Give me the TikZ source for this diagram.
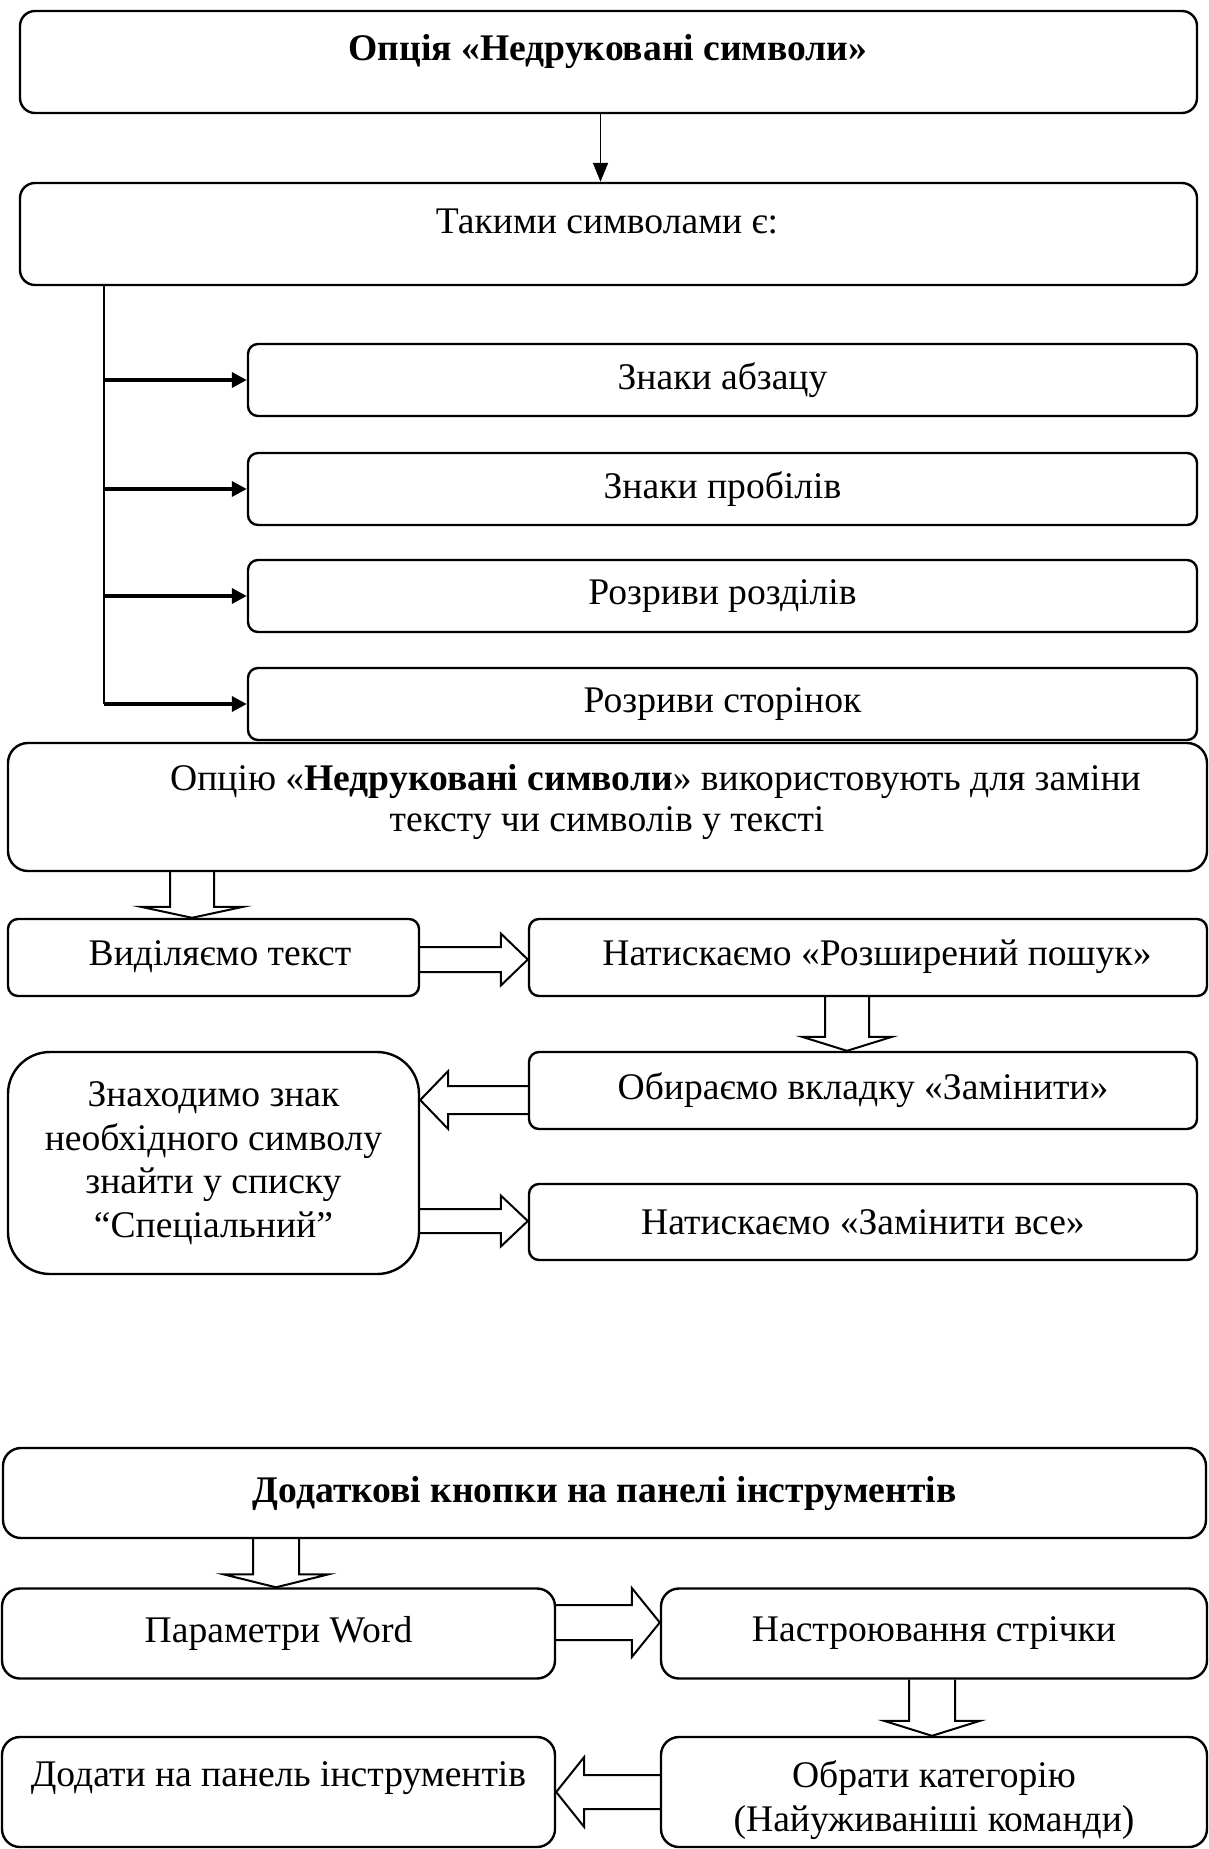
\documentclass[tikz,border=0pt]{standalone}
\usepackage{fontspec}
\setmainfont{Liberation Serif}
\usetikzlibrary{calc,arrows.meta}
\newcommand\fs{\fontsize{37.6}{43.5}\selectfont}
\newcommand\hdn[6]{%
  \draw[hollow] let \p1=(#2), \p2=(#3) in
  (#1pt-#4pt,\y1) -- (#1pt-#4pt,\y2+#6pt) -- (#1pt-#5pt,\y2+#6pt) -- (#1pt,\y2)
  -- (#1pt+#5pt,\y2+#6pt) -- (#1pt+#4pt,\y2+#6pt) -- (#1pt+#4pt,\y1);}
\newcommand\hrt[6]{%
  \draw[hollow] let \p1=(#2), \p2=(#3) in
  (\x1,#1pt+#4pt) -- (\x2-#6pt,#1pt+#4pt) -- (\x2-#6pt,#1pt+#5pt) -- (\x2,#1pt)
  -- (\x2-#6pt,#1pt-#5pt) -- (\x2-#6pt,#1pt-#4pt) -- (\x1,#1pt-#4pt);}
\newcommand\hlt[6]{%
  \draw[hollow] let \p1=(#2), \p2=(#3) in
  (\x1,#1pt+#4pt) -- (\x2+#6pt,#1pt+#4pt) -- (\x2+#6pt,#1pt+#5pt) -- (\x2,#1pt)
  -- (\x2+#6pt,#1pt-#5pt) -- (\x2+#6pt,#1pt-#4pt) -- (\x1,#1pt-#4pt);}
\begin{document}
\begin{tikzpicture}[x=1pt,y=1pt,
  box/.style={draw,line width=2.4pt,rounded corners=10pt,inner sep=0pt,align=center,font=\fs},
  txt/.style={inner sep=0pt,align=center,font=\fs},
  hollow/.style={draw,line width=2pt,line join=miter},
  thinarrow/.style={line width=1.8pt,-{Triangle[width=15pt,length=19pt]}},
  branch/.style={line width=3.5pt,-{Triangle[width=15pt,length=15pt]}},
  ]
\useasboundingbox (0,0) rectangle (1208,-1849);
% top part
\node[box,rounded corners=15pt,minimum width=1177pt,minimum height=102pt] (t1) at (608.5,-62) {};
\node[txt,font=\fs\bfseries] (t1txt) at (608,-52) {Опція «Недруковані символи»};
\node[box,rounded corners=15pt,minimum width=1177pt,minimum height=102pt] (t2) at (608.5,-234) {};
\node[txt] (t2txt) at (607,-221) {Такими символами є:};
\node[box,minimum width=949pt,minimum height=72pt] (s1) at (722.5,-380) {Знаки абзацу};
\node[box,minimum width=949pt,minimum height=72pt] (s2) at (722.5,-489) {Знаки пробілів};
\node[box,minimum width=949pt,minimum height=72pt] (s3) at (722.5,-596) {Розриви розділів};
\node[box,minimum width=949pt,minimum height=72pt] (s4) at (722.5,-704) {Розриви сторінок};
\draw[thinarrow] ($(t1.south)+(-8,0)$) -- ($(t2.north)+(-8,0)$);
\draw[line width=2.2pt] (t2.south -| 104,0) -- (s4.west -| 104,0);
\draw[branch] (s1.west -| 104,0) -- (s1.west);
\draw[branch] (s2.west -| 104,0) -- (s2.west);
\draw[branch] (s3.west -| 104,0) -- (s3.west);
\draw[branch] (s4.west -| 104,0) -- (s4.west);
% middle part
\node[box,rounded corners=20pt,minimum width=1199pt,minimum height=128pt] (o) at (607.5,-807) {};
\node[txt,font=\fontsize{37.6}{41.5}\selectfont] (otxt) at (607,-802) {\hspace*{97pt}Опцію «\textbf{Недруковані символи}» використовують для заміни\\тексту чи символів у тексті};
\node[box,minimum width=411pt,minimum height=77pt] (v1) at (213.5,-957.5) {};
\node[txt] (v1txt) at (220,-957) {Виділяємо текст};
\node[box,minimum width=678pt,minimum height=77pt] (n1) at (868,-957.5) {};
\node[txt] (n1txt) at (877,-957) {Натискаємо «Розширений пошук»};
\node[box,minimum width=668pt,minimum height=77pt] (ob) at (863,-1090.5) {Обираємо вкладку «Замінити»};
\node[box,rounded corners=42pt,minimum width=411pt,minimum height=222pt] (zn) at (213.5,-1163) {Знаходимо знак\\необхідного символу\\знайти у списку\\“Спеціальний”};
\node[box,minimum width=668pt,minimum height=76pt] (nz) at (863,-1222) {Натискаємо «Замінити все»};
\hdn{192}{o.south}{v1.north}{22}{51}{11}
\hrt{-959.5}{v1.east}{n1.west}{12.5}{26}{27}
\hdn{847}{n1.south}{ob.north}{22}{45}{14}
\hlt{-1100}{ob.west}{zn.east}{14}{29}{28}
\hrt{-1221}{zn.east}{nz.west}{12}{25.5}{27}
% bottom part
\node[box,rounded corners=18pt,minimum width=1203pt,minimum height=90pt,font=\fs\bfseries] (d) at (604.5,-1493) {Додаткові кнопки на панелі інструментів};
\node[box,rounded corners=18pt,minimum width=553pt,minimum height=90pt] (pw) at (278.5,-1633.5) {Параметри Word};
\node[box,rounded corners=18pt,minimum width=546pt,minimum height=90pt] (ns) at (934,-1633.5) {Настроювання стрічки};
\node[box,rounded corners=18pt,minimum width=546pt,minimum height=110pt] (ok) at (934,-1792) {};
\node[txt] (oktxt) at (934,-1800) {Обрати категорію\\(Найуживаніші команди)};
\node[box,rounded corners=18pt,minimum width=553pt,minimum height=110pt] (dp) at (278.5,-1792) {};
\node[txt] (dptxt) at (278.5,-1778) {Додати на панель інструментів};
\hdn{276}{d.south}{pw.north}{23}{52.5}{13}
\hrt{-1622.5}{pw.east}{ns.west}{17.5}{34.5}{28}
\hdn{932}{ns.south}{ok.north}{23}{48}{15}
\hlt{-1792}{ok.west}{dp.east}{17}{35}{28}
\end{tikzpicture}
\end{document}
